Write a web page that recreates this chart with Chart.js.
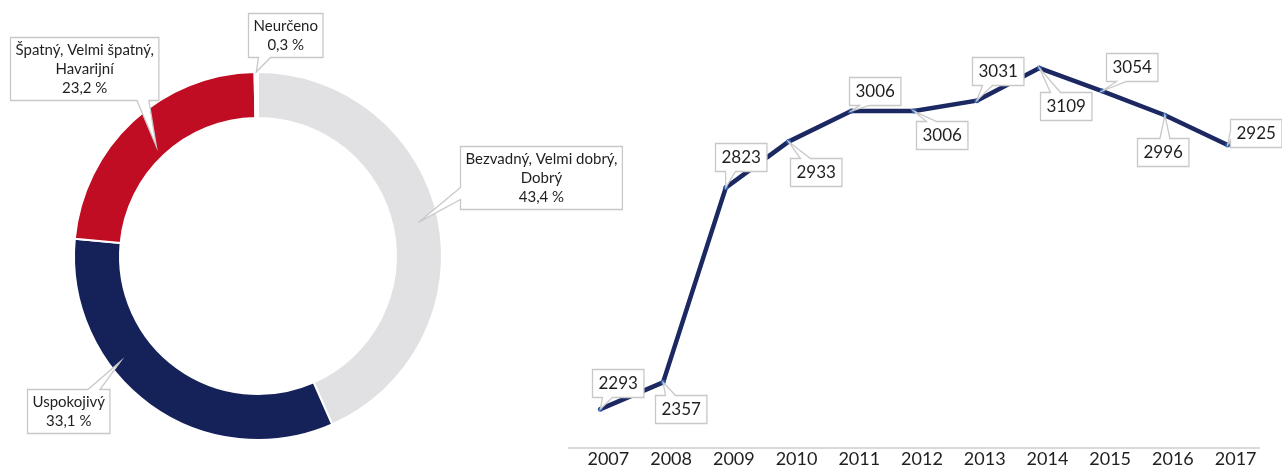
<!DOCTYPE html>
<html lang="cs">
<head>
<meta charset="UTF-8">
<title>Stav – přehled</title>
<script src="https://cdn.jsdelivr.net/npm/chart.js"></script>
<style>
  body { margin: 0; background: #fff; width: 1282px; height: 470px; overflow: hidden; position: relative; }
  .box { position: absolute; top: 0; height: 470px; }
  #ringBox { left: 0; width: 640px; }
  #lineBox { left: 560px; width: 722px; }
</style>
</head>
<body>
<div class="box" id="ringBox"><canvas id="ringChart"></canvas></div>
<div class="box" id="lineBox"><canvas id="lineChart"></canvas></div>
<script>
// data
const conditionLabels = [['Bezvadný, Velmi dobrý,', 'Dobrý'], ['Uspokojivý'], ['Špatný, Velmi špatný,', 'Havarijní'], ['Neurčeno']];
const conditionShares = [43.4, 33.1, 23.2, 0.3];
const years = ['2007', '2008', '2009', '2010', '2011', '2012', '2013', '2014', '2015', '2016', '2017'];
const counts = [2293, 2357, 2823, 2933, 3006, 3006, 3031, 3109, 3054, 2996, 2925];

// styling
const ringColors = ['#e1e1e3', '#15225a', '#c10d23', '#ffffff'];
// box centre relative to tip; tip position along the slice and across the ring (0..1)
const ringCallouts = [
  { dx: 122, dy: -45, along: 0.5, across: 0.57 },
  { dx: -52, dy: 49, along: 0.64, across: 0.77 },
  { dx: -72, dy: -78, along: 0.5, across: 0.25 },
  { dx: 29, dy: -37, along: 0.5, across: 1.0 }
];
const pointCallouts = [[17, -26], [18, 27], [15, -31], [27, 30], [23, -20], [28, 24], [21, -30], [26, 38], [30, -24], [-2, 37], [28, -12]];
const textColor = '#1f1f1f';
const FONT = 'Lato, "Open Sans", sans-serif';

function drawCallout(ctx, lines, cx, cy, tipX, tipY, opt) {
  ctx.save();
  ctx.font = opt.size + 'px ' + FONT;
  const w = Math.max(...lines.map(l => ctx.measureText(l).width)) + opt.padX * 2;
  const h = lines.length * opt.lineH + opt.padY * 2;
  const x = Math.round(cx - w / 2) + 0.5, y = Math.round(cy - h / 2) + 0.5;
  const ex = Math.max(x - tipX, tipX - (x + w), 0);
  const ey = Math.max(y - tipY, tipY - (y + h), 0);
  const side = ey >= ex ? (tipY < y ? 'top' : 'bottom') : (tipX < x ? 'left' : 'right');
  const bw = opt.base;
  const clamp = (v, a, b) => Math.min(Math.max(v, a), b);
  const along = (v, a, len) => {
    const m = Math.min(10, (len - bw) / 2 - 2);
    return clamp(v, a + m + bw / 2, a + len - m - bw / 2);
  };
  ctx.beginPath();
  ctx.moveTo(x, y);
  if (side === 'top') {
    const c = along(tipX, x, w);
    ctx.lineTo(c - bw / 2, y); ctx.lineTo(tipX, tipY); ctx.lineTo(c + bw / 2, y);
  }
  ctx.lineTo(x + w, y);
  if (side === 'right') {
    const c = along(tipY, y, h);
    ctx.lineTo(x + w, c - bw / 2); ctx.lineTo(tipX, tipY); ctx.lineTo(x + w, c + bw / 2);
  }
  ctx.lineTo(x + w, y + h);
  if (side === 'bottom') {
    const c = along(tipX, x, w);
    ctx.lineTo(c + bw / 2, y + h); ctx.lineTo(tipX, tipY); ctx.lineTo(c - bw / 2, y + h);
  }
  ctx.lineTo(x, y + h);
  if (side === 'left') {
    const c = along(tipY, y, h);
    ctx.lineTo(x, c + bw / 2); ctx.lineTo(tipX, tipY); ctx.lineTo(x, c - bw / 2);
  }
  ctx.closePath();
  ctx.fillStyle = '#ffffff';
  ctx.fill();
  ctx.strokeStyle = '#c8c8c8';
  ctx.lineWidth = 1.3;
  ctx.stroke();
  ctx.fillStyle = textColor;
  ctx.textAlign = 'center';
  ctx.textBaseline = 'middle';
  lines.forEach((l, i) => ctx.fillText(l, x + w / 2, y + opt.padY + opt.lineH * (i + 0.5)));
  ctx.restore();
}

const ringLabelPlugin = {
  id: 'ringLabels',
  afterDatasetsDraw(chart) {
    const ctx = chart.ctx;
    chart.getDatasetMeta(0).data.forEach((arc, i) => {
      const p = arc.getProps(['x', 'y', 'startAngle', 'endAngle', 'innerRadius', 'outerRadius'], true);
      const c = ringCallouts[i];
      const a = p.startAngle + (p.endAngle - p.startAngle) * c.along;
      const r = p.innerRadius + (p.outerRadius - p.innerRadius) * c.across;
      const tx = p.x + r * Math.cos(a), ty = p.y + r * Math.sin(a);
      const pct = conditionShares[i].toFixed(1).replace('.', ',') + ' %';
      drawCallout(ctx, [...conditionLabels[i], pct], tx + c.dx, ty + c.dy, tx, ty,
        { size: 15, lineH: 19, padX: 5, padY: 3, base: 12 });
    });
  }
};

const pointLabelPlugin = {
  id: 'pointLabels',
  afterDatasetsDraw(chart) {
    const ctx = chart.ctx;
    chart.getDatasetMeta(0).data.forEach((pt, i) => {
      const [dx, dy] = pointCallouts[i];
      drawCallout(ctx, [String(counts[i])], pt.x + dx, pt.y + dy, pt.x, pt.y,
        { size: 17, lineH: 20, padX: 6, padY: 4, base: 10 });
    });
  }
};

new Chart(document.getElementById('ringChart'), {
  type: 'doughnut',
  data: {
    labels: conditionLabels.map(l => l.join(' ')),
    datasets: [{
      data: conditionShares,
      backgroundColor: ringColors,
      borderColor: '#ffffff',
      borderWidth: 2
    }]
  },
  options: {
    responsive: true,
    maintainAspectRatio: false,
    animation: false,
    cutout: '75%',
    layout: { padding: { left: 73, right: 197, top: 71, bottom: 29 } },
    plugins: { legend: { display: false }, tooltip: { enabled: false } }
  },
  plugins: [ringLabelPlugin]
});

new Chart(document.getElementById('lineChart'), {
  type: 'line',
  data: {
    labels: years,
    datasets: [{
      data: counts,
      borderColor: '#1b2862',
      borderWidth: 4.5,
      borderJoinStyle: 'round',
      tension: 0,
      pointRadius: 2.5,
      pointBackgroundColor: '#2e5aa8',
      pointBorderWidth: 0
    }]
  },
  options: {
    responsive: true,
    maintainAspectRatio: false,
    animation: false,
    layout: { padding: { top: 30, left: 9, right: 23, bottom: 0 } },
    plugins: { legend: { display: false }, tooltip: { enabled: false } },
    scales: {
      x: {
        offset: true,
        grid: { display: false, drawTicks: false },
        border: { color: '#d9d9d9', width: 2 },
        ticks: {
          color: textColor,
          font: { family: FONT, size: 18, lineHeight: 1 },
          padding: 2,
          labelOffset: 8,
          maxRotation: 0,
          autoSkip: false
        }
      },
      y: { display: false, min: 2200, max: 3200 }
    }
  },
  plugins: [pointLabelPlugin]
});
</script>
</body>
</html>
